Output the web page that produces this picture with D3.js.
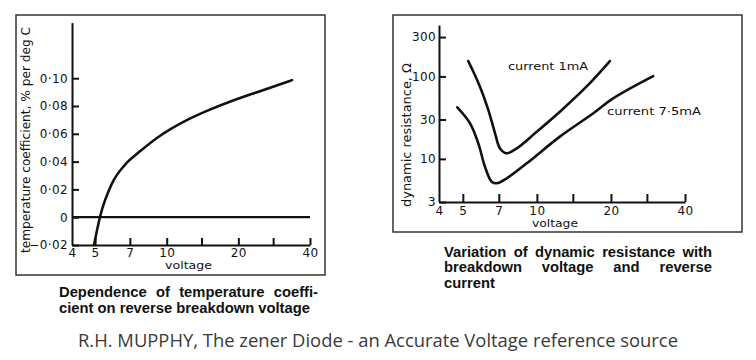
<!DOCTYPE html>
<html>
<head>
<meta charset="utf-8">
<script src="https://cdn.jsdelivr.net/npm/d3@7"></script>
<style>
  html, body { margin: 0; padding: 0; background: #fff; }
  svg { display: block; }
  .ax text { font-family: "DejaVu Sans", sans-serif; font-size: 12px; fill: #111; letter-spacing: 0.4px; }
  .ax path, .ax line { stroke: #111; }
  .lbl { font-family: "DejaVu Sans", sans-serif; fill: #111; }
  .cap { font-family: "Liberation Sans", Arial, sans-serif; font-weight: bold; font-size: 13.8px; fill: #111; }
</style>
</head>
<body>
<script>
// ---------- data ----------
// Left chart: temperature coefficient vs breakdown voltage
const leftVoltage   = [4.95, 5.24, 5.9, 6.7, 7.7, 9.1, 12.2, 15, 19, 25, 33.6];
const leftTempCoef  = [-0.02, 0, 0.0245, 0.038, 0.0472, 0.057, 0.070, 0.077, 0.084, 0.091, 0.0986];
const leftYTicks    = [-0.02, 0, 0.02, 0.04, 0.06, 0.08, 0.10];
const leftYLabels   = ["\u22120\u00B702", "0", "0\u00B702", "0\u00B704", "0\u00B706", "0\u00B708", "0\u00B710"];
// Right chart: dynamic resistance vs breakdown voltage
const r1Voltage     = [5.26, 5.87, 6.35, 6.76, 7.08, 7.54, 8.28, 9.98, 12.4, 15.9, 19.8];
const r1Resistance  = [153.6, 75, 39.1, 20.4, 13.4, 11.7, 13.4, 21.3, 37.3, 75, 153.6];
const r2Voltage     = [4.75, 5.35, 5.78, 6.15, 6.55, 6.87, 7.54, 9.09, 12.4, 16.96, 20.4, 29.7];
const r2Resistance  = [42.2, 27.0, 15.4, 8.04, 5.29, 5.06, 5.81, 8.83, 18.6, 35.7, 54.2, 101];
const rightYTicks   = [3, 10, 30, 100, 300];
// shared x axis
const xTickMarks    = [5, 7, 10, 14, 20, 28, 40];
const xTickLabels   = [4, 5, 7, 10, 20, 40];

const svg = d3.select("body").append("svg").attr("width", 756).attr("height", 360);

// frames
svg.append("rect").attr("x", 16).attr("y", 15).attr("width", 309).attr("height", 260)
  .attr("fill", "none").attr("stroke", "#333").attr("stroke-width", 1.5);
svg.append("rect").attr("x", 393).attr("y", 15).attr("width", 349).attr("height", 217)
  .attr("fill", "none").attr("stroke", "#333").attr("stroke-width", 1.5);

// ---------- left chart ----------
const xL = d3.scaleLog().domain([4, 40]).range([72, 310]);
const yL = d3.scaleLinear().domain([-0.02, 0.14]).range([245, 22.6]);

const gL = svg.append("g");
gL.append("g").attr("class", "ax").attr("transform", "translate(0,245)")
  .call(d3.axisBottom(xL).tickValues(xTickMarks).tickFormat("").tickSize(-7).tickSizeOuter(0))
  .call(g => g.selectAll("path,line").attr("stroke-width", 2));
gL.append("g").attr("class", "ax").attr("transform", "translate(0,245)")
  .call(d3.axisBottom(xL).tickValues(xTickLabels).tickFormat(d3.format("d")).tickSize(0).tickPadding(3.5))
  .call(g => g.select(".domain").remove());
gL.append("g").attr("class", "ax").attr("transform", "translate(72,0)")
  .call(d3.axisLeft(yL).tickValues(leftYTicks).tickFormat((d, i) => leftYLabels[i]).tickSize(-7).tickSizeOuter(0).tickPadding(4))
  .call(g => g.selectAll("path,line").attr("stroke-width", 2));

// zero reference line
gL.append("line").attr("x1", xL(4)).attr("x2", xL(40)).attr("y1", yL(0)).attr("y2", yL(0))
  .attr("stroke", "#111").attr("stroke-width", 2.3);

gL.append("path")
  .datum(leftVoltage.map((v, i) => [v, leftTempCoef[i]]))
  .attr("fill", "none").attr("stroke", "#111").attr("stroke-width", 2.6).attr("stroke-linecap", "round")
  .attr("d", d3.line().x(d => xL(d[0])).y(d => yL(d[1])).curve(d3.curveMonotoneX));

gL.append("text").attr("class", "lbl").attr("font-size", 11.5)
  .attr("transform", "translate(30,140) rotate(-90)").attr("text-anchor", "middle")
  .attr("textLength", 226).attr("lengthAdjust", "spacingAndGlyphs")
  .text("temperature coefficient, % per deg C");
gL.append("text").attr("class", "lbl").attr("font-size", 11)
  .attr("x", 165).attr("y", 269).attr("textLength", 47).attr("lengthAdjust", "spacingAndGlyphs")
  .text("voltage");

// ---------- right chart ----------
const xR = d3.scaleLog().domain([4, 40]).range([439, 685]);
const yR = d3.scaleLog().domain([3, 420]).range([202, 25]);

const gR = svg.append("g");
gR.append("g").attr("class", "ax").attr("transform", "translate(0,202)")
  .call(d3.axisBottom(xR).tickValues(xTickMarks).tickFormat("").tickSize(-8).tickSizeOuter(0))
  .call(g => g.selectAll("path,line").attr("stroke-width", 2));
gR.append("g").attr("class", "ax").attr("transform", "translate(0,202)")
  .call(d3.axisBottom(xR).tickValues(xTickLabels).tickFormat(d3.format("d")).tickSize(0).tickPadding(4.5))
  .call(g => g.select(".domain").remove());
gR.append("g").attr("class", "ax").attr("transform", "translate(439,0)")
  .call(d3.axisLeft(yR).tickValues(rightYTicks).tickFormat(d3.format("d")).tickSize(-7).tickSizeOuter(0).tickPadding(3))
  .call(g => g.selectAll("path,line").attr("stroke-width", 2));

const lineR = d3.line().x(d => xR(d[0])).y(d => yR(d[1])).curve(d3.curveCatmullRom.alpha(0.5));
gR.append("path").datum(r1Voltage.map((v, i) => [v, r1Resistance[i]]))
  .attr("fill", "none").attr("stroke", "#111").attr("stroke-width", 2.6).attr("stroke-linecap", "round")
  .attr("d", lineR);
gR.append("path").datum(r2Voltage.map((v, i) => [v, r2Resistance[i]]))
  .attr("fill", "none").attr("stroke", "#111").attr("stroke-width", 2.6).attr("stroke-linecap", "round")
  .attr("d", lineR);

gR.append("text").attr("class", "lbl").attr("font-size", 12)
  .attr("transform", "translate(411,135) rotate(-90)").attr("text-anchor", "middle")
  .attr("textLength", 144).attr("lengthAdjust", "spacingAndGlyphs")
  .text("dynamic resistance, \u03A9");
gR.append("text").attr("class", "lbl").attr("font-size", 11)
  .attr("x", 532).attr("y", 227).attr("textLength", 46).attr("lengthAdjust", "spacingAndGlyphs")
  .text("voltage");
gR.append("text").attr("class", "lbl").attr("font-size", 11)
  .attr("x", 508).attr("y", 70).attr("textLength", 80).attr("lengthAdjust", "spacingAndGlyphs")
  .text("current 1mA");
gR.append("text").attr("class", "lbl").attr("font-size", 11)
  .attr("x", 607).attr("y", 115).attr("textLength", 94).attr("lengthAdjust", "spacingAndGlyphs")
  .text("current 7\u00B75mA");

// ---------- captions (word-justified lines, glyphs widened horizontally) ----------
const capStretch = 1.07;
function captionLine(str, x, y, width) {
  const g = svg.append("g").attr("transform", `translate(${x},${y}) scale(${capStretch},1)`);
  const t = g.append("text").attr("class", "cap").attr("x", 0).attr("y", 0);
  if (width == null) { t.text(str); return; }
  const words = str.split(" ");
  const spans = words.map(w => t.append("tspan").text(w));
  const lens = spans.map(s => s.node().getComputedTextLength());
  const w = width / capStretch;
  const gap = words.length > 1 ? (w - d3.sum(lens)) / (words.length - 1) : 0;
  let cx = 0;
  spans.forEach((s, i) => { s.attr("x", cx); cx += lens[i] + gap; });
}
captionLine("Dependence of temperature coeffi-", 59, 297, 259);
captionLine("cient on reverse breakdown voltage", 59, 313, null);
captionLine("Variation of dynamic resistance with", 444, 256.5, 268);
captionLine("breakdown voltage and reverse", 444, 272, 268);
captionLine("current", 444, 287.5, null);

svg.append("text").attr("x", 78).attr("y", 347)
  .attr("font-family", "'Open Sans', 'Noto Sans', sans-serif").attr("font-size", 18).attr("fill", "#3a3a3a")
  .attr("textLength", 600).attr("lengthAdjust", "spacingAndGlyphs")
  .text("R.H. MUPPHY, The zener Diode - an Accurate Voltage reference source");
</script>
</body>
</html>
